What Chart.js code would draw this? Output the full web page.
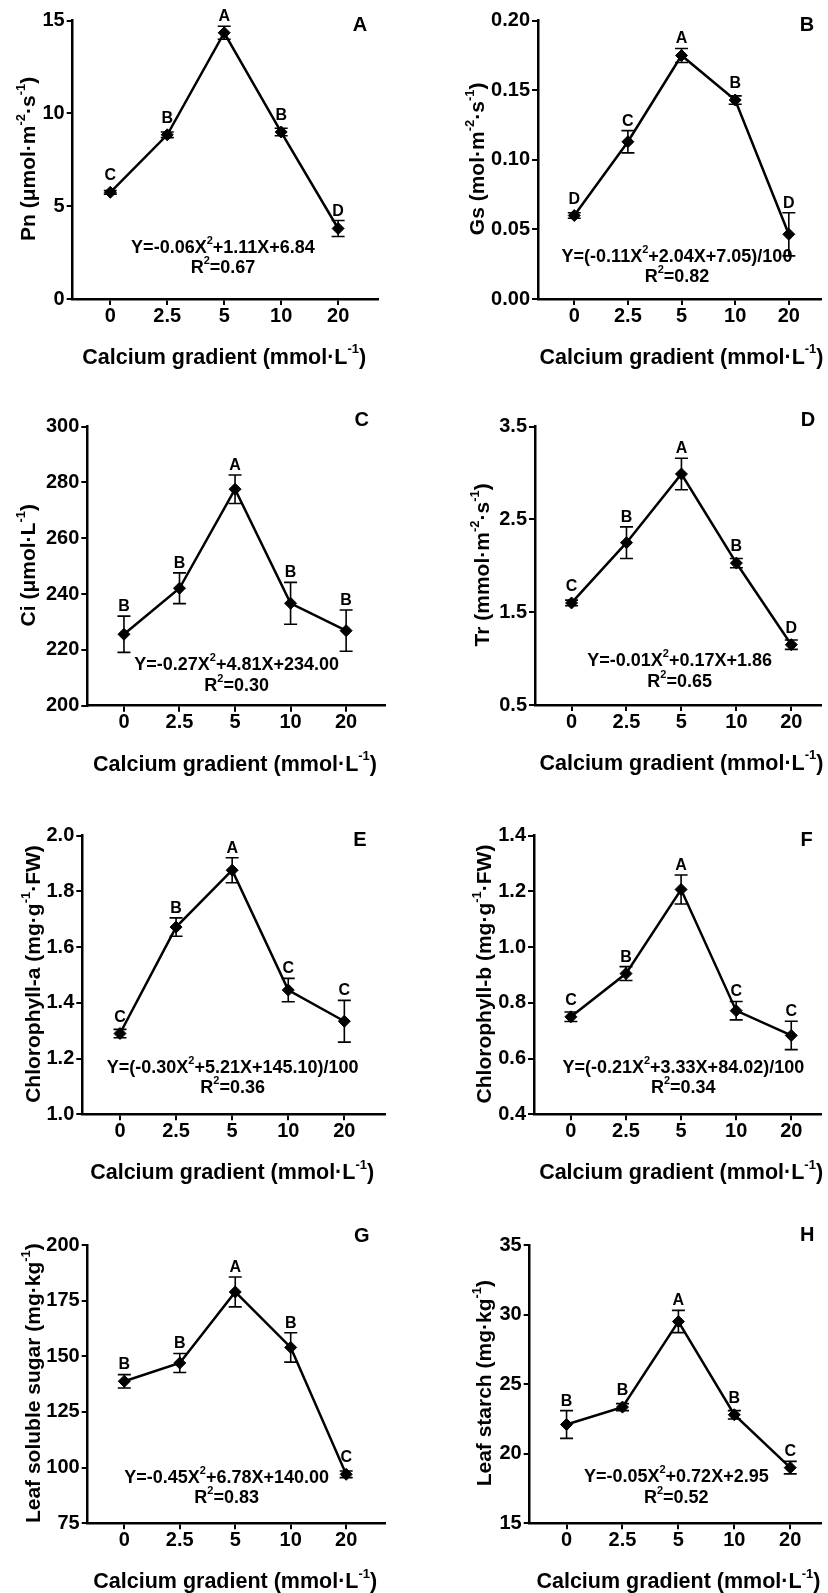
<!DOCTYPE html>
<html>
<head>
<meta charset="utf-8">
<script src="https://cdn.jsdelivr.net/npm/chart.js@4.4.1/dist/chart.umd.min.js"></script>
<style>
  html, body { margin: 0; padding: 0; background: #fff; }
  #page { position: relative; width: 828px; height: 1593px; overflow: hidden; }
  #page canvas { position: absolute; }
</style>
</head>
<body>
<div id="page"></div>
<script>
// calcium treatments (x categories)
const calcium = ['0', '2.5', '5', '10', '20'];

// A - net photosynthetic rate
const pnMean = [5.75, 8.85, 14.35, 9.0, 3.8];
const pnErr = [0.1, 0.15, 0.35, 0.2, 0.43];
const pnLetters = ['C', 'B', 'A', 'B', 'D'];
const pnTicks = ['0', '5', '10', '15'];
const pnFit = ['Y=-0.06X^{2}+1.11X+6.84', 'R^{2}=0.67'];

// B - stomatal conductance
const gsMean = [0.060, 0.113, 0.175, 0.143, 0.0465];
const gsErr = [0.002, 0.008, 0.005, 0.003, 0.0155];
const gsLetters = ['D', 'C', 'A', 'B', 'D'];
const gsTicks = ['0.00', '0.05', '0.10', '0.15', '0.20'];
const gsFit = ['Y=(-0.11X^{2}+2.04X+7.05)/100', 'R^{2}=0.82'];

// C - intercellular CO2
const ciMean = [225.6, 242.1, 277.6, 236.7, 226.9];
const ciErr = [6.5, 5.5, 5.1, 7.5, 7.4];
const ciLetters = ['B', 'B', 'A', 'B', 'B'];
const ciTicks = ['200', '220', '240', '260', '280', '300'];
const ciFit = ['Y=-0.27X^{2}+4.81X+234.00', 'R^{2}=0.30'];

// D - transpiration rate
const trMean = [1.60, 2.25, 2.99, 2.03, 1.15];
const trErr = [0.03, 0.17, 0.17, 0.05, 0.05];
const trLetters = ['C', 'B', 'A', 'B', 'D'];
const trTicks = ['0.5', '1.5', '2.5', '3.5'];
const trFit = ['Y=-0.01X^{2}+0.17X+1.86', 'R^{2}=0.65'];

// E - chlorophyll a
const chlaMean = [1.29, 1.672, 1.876, 1.446, 1.334];
const chlaErr = [0.015, 0.033, 0.045, 0.042, 0.075];
const chlaLetters = ['C', 'B', 'A', 'C', 'C'];
const chlaTicks = ['1.0', '1.2', '1.4', '1.6', '1.8', '2.0'];
const chlaFit = ['Y=(-0.30X^{2}+5.21X+145.10)/100', 'R^{2}=0.36'];

// F - chlorophyll b
const chlbMean = [0.750, 0.905, 1.207, 0.772, 0.683];
const chlbErr = [0.017, 0.025, 0.052, 0.033, 0.051];
const chlbLetters = ['C', 'B', 'A', 'C', 'C'];
const chlbTicks = ['0.4', '0.6', '0.8', '1.0', '1.2', '1.4'];
const chlbFit = ['Y=(-0.21X^{2}+3.33X+84.02)/100', 'R^{2}=0.34'];

// G - leaf soluble sugar
const sugarMean = [138.8, 147.0, 178.9, 154.0, 97.0];
const sugarErr = [3.0, 4.3, 6.7, 6.6, 1.5];
const sugarLetters = ['B', 'B', 'A', 'B', 'C'];
const sugarTicks = ['75', '100', '125', '150', '175', '200'];
const sugarFit = ['Y=-0.45X^{2}+6.78X+140.00', 'R^{2}=0.83'];

// H - leaf starch
const starchMean = [22.1, 23.35, 29.5, 22.8, 19.0];
const starchErr = [1.0, 0.25, 0.8, 0.3, 0.45];
const starchLetters = ['B', 'B', 'A', 'B', 'C'];
const starchTicks = ['15', '20', '25', '30', '35'];
const starchFit = ['Y=-0.05X^{2}+0.72X+2.95', 'R^{2}=0.52'];

const xTitle = 'Calcium gradient (mmol·L^{-1})';

const FONT = '"Liberation Sans", Arial, sans-serif';

// panel layout, page pixel coordinates
const panels = [
  { tag: 'A', mean: pnMean, err: pnErr, letters: pnLetters, ticks: pnTicks, fit: pnFit,
    yTitle: 'Pn (μmol·m^{-2}·s^{-1})', x0: 0, y0: 0, h: 400,
    left: 72.7, top: 20.7, right: 378, bottom: 299, xmin: -0.66, xmax: 4.7,
    yTitleX: 28, tagPos: [360, 24], eq: [223, 247, 267] },
  { tag: 'B', mean: gsMean, err: gsErr, letters: gsLetters, ticks: gsTicks, fit: gsFit,
    yTitle: 'Gs (mol·m^{-2}·s^{-1})', x0: 414, y0: 0, h: 400,
    left: 538, top: 20.7, right: 828, bottom: 299, xmin: -0.676, xmax: 4.6,
    yTitleX: 477.3, tagPos: [807, 24], eq: [677, 255.7, 276] },
  { tag: 'C', mean: ciMean, err: ciErr, letters: ciLetters, ticks: ciTicks, fit: ciFit,
    yTitle: 'Ci (μmol·L^{-1})', x0: 0, y0: 400, h: 400,
    left: 87.3, top: 426.7, right: 385, bottom: 705.7, xmin: -0.66, xmax: 4.7,
    yTitleX: 28.3, tagPos: [361.7, 419], eq: [236.7, 664, 685] },
  { tag: 'D', mean: trMean, err: trErr, letters: trLetters, ticks: trTicks, fit: trFit,
    yTitle: 'Tr (mmol·m^{-2}·s^{-1})', x0: 414, y0: 400, h: 400,
    left: 535, top: 426.7, right: 828, bottom: 705, xmin: -0.665, xmax: 4.54,
    yTitleX: 482.3, tagPos: [808, 419], eq: [679.7, 660, 681] },
  { tag: 'E', mean: chlaMean, err: chlaErr, letters: chlaLetters, ticks: chlaTicks, fit: chlaFit,
    yTitle: 'Chlorophyll-a (mg·g^{-1}·FW)', x0: 0, y0: 800, h: 400,
    left: 82.3, top: 835.7, right: 385, bottom: 1114.3, xmin: -0.672, xmax: 4.725,
    yTitleX: 33.3, tagPos: [360, 839], eq: [232.7, 1066.7, 1087.3] },
  { tag: 'F', mean: chlbMean, err: chlbErr, letters: chlbLetters, ticks: chlbTicks, fit: chlbFit,
    yTitle: 'Chlorophyll-b (mg·g^{-1}·FW)', x0: 414, y0: 800, h: 400,
    left: 534, top: 835.7, right: 828, bottom: 1114.3, xmin: -0.67, xmax: 4.54,
    yTitleX: 484, tagPos: [806.7, 839], eq: [683.3, 1066.7, 1087] },
  { tag: 'G', mean: sugarMean, err: sugarErr, letters: sugarLetters, ticks: sugarTicks, fit: sugarFit,
    yTitle: 'Leaf soluble sugar (mg·kg^{-1})', x0: 0, y0: 1200, h: 393,
    left: 87.7, top: 1245, right: 385, bottom: 1523.3, xmin: -0.66, xmax: 4.7,
    yTitleX: 33.3, tagPos: [361.7, 1235], eq: [226.7, 1476.7, 1496.7] },
  { tag: 'H', mean: starchMean, err: starchErr, letters: starchLetters, ticks: starchTicks, fit: starchFit,
    yTitle: 'Leaf starch (mg·kg^{-1})', x0: 414, y0: 1200, h: 393,
    left: 529.7, top: 1245, right: 828, bottom: 1523.3, xmin: -0.659, xmax: 4.55,
    yTitleX: 484, tagPos: [807.3, 1234], eq: [676.3, 1476, 1496.7] }
];

const Y_W = 60, X_H = 30, PANEL_W = 414;

// text with ^{...} superscripts
function parseRich(s) {
  const parts = [];
  const re = /\^\{([^}]*)\}/g;
  let last = 0, m;
  while ((m = re.exec(s))) {
    if (m.index > last) parts.push({ t: s.slice(last, m.index), sup: false });
    parts.push({ t: m[1], sup: true });
    last = re.lastIndex;
  }
  if (last < s.length) parts.push({ t: s.slice(last), sup: false });
  return parts;
}

function drawRich(ctx, s, cx, cy, size) {
  const parts = parseRich(s);
  const base = 'bold ' + size + 'px ' + FONT;
  const small = 'bold ' + Math.round(size * 0.62) + 'px ' + FONT;
  let w = 0;
  parts.forEach(p => { ctx.font = p.sup ? small : base; p.w = ctx.measureText(p.t).width; w += p.w; });
  let x = cx - w / 2;
  ctx.textAlign = 'left';
  ctx.textBaseline = 'middle';
  parts.forEach(p => {
    ctx.font = p.sup ? small : base;
    ctx.fillText(p.t, x, p.sup ? cy - size * 0.38 : cy);
    x += p.w;
  });
}

function makePlugin(p) {
  return {
    id: 'panelMarks' + p.tag,
    afterDatasetsDraw(chart) {
      const ctx = chart.ctx;
      const xs = chart.scales.x, ys = chart.scales.y;
      ctx.save();
      ctx.strokeStyle = '#000';
      ctx.fillStyle = '#000';
      ctx.lineWidth = 1.6;
      p.mean.forEach((v, i) => {
        const px = xs.getPixelForValue(i);
        const hi = ys.getPixelForValue(v + p.err[i]);
        const lo = ys.getPixelForValue(v - p.err[i]);
        ctx.beginPath();
        ctx.moveTo(px, hi); ctx.lineTo(px, lo);
        ctx.moveTo(px - 6.5, hi); ctx.lineTo(px + 6.5, hi);
        ctx.moveTo(px - 6.5, lo); ctx.lineTo(px + 6.5, lo);
        ctx.stroke();
        const top = Math.min(hi, ys.getPixelForValue(v) - 7);
        ctx.font = 'bold 16px ' + FONT;
        ctx.textAlign = 'center';
        ctx.textBaseline = 'alphabetic';
        ctx.fillText(p.letters[i], px, top - 5);
      });
      ctx.restore();
    },
    afterDraw(chart) {
      const ctx = chart.ctx;
      const area = chart.chartArea;
      const xs = chart.scales.x;
      ctx.save();
      ctx.fillStyle = '#000';
      // x title
      drawRich(ctx, xTitle, xs.getPixelForValue(2), area.bottom + 59, 21.5);
      // y title
      ctx.save();
      ctx.translate(p.yTitleX - p.x0 + 1, (area.top + area.bottom) / 2 - 1);
      ctx.rotate(-Math.PI / 2);
      drawRich(ctx, p.yTitle, 0, 0, 21);
      ctx.restore();
      // panel tag
      drawRich(ctx, p.tag, p.tagPos[0] - p.x0, p.tagPos[1] - p.y0 + 1, 20);
      // fitted equation
      drawRich(ctx, p.fit[0], p.eq[0] - p.x0, p.eq[1] - p.y0 + 1, 18);
      drawRich(ctx, p.fit[1], p.eq[0] - p.x0, p.eq[2] - p.y0 + 1, 18);
      ctx.restore();
    }
  };
}

const page = document.getElementById('page');

panels.forEach(p => {
  const canvas = document.createElement('canvas');
  canvas.width = PANEL_W;
  canvas.height = p.h;
  canvas.style.left = p.x0 + 'px';
  canvas.style.top = p.y0 + 'px';
  canvas.style.width = PANEL_W + 'px';
  canvas.style.height = p.h + 'px';
  page.appendChild(canvas);

  const tickFont = { family: FONT, size: 20, weight: 'bold' };

  new Chart(canvas, {
    type: 'scatter',
    data: {
      datasets: [{
        data: p.mean.map((v, i) => ({ x: i, y: v })),
        showLine: true,
        borderColor: '#000',
        borderWidth: 2.5,
        pointStyle: 'rectRot',
        pointRadius: 6,
        pointBorderWidth: 1,
        pointBackgroundColor: '#000',
        pointBorderColor: '#000'
      }]
    },
    options: {
      responsive: false,
      animation: false,
      devicePixelRatio: 1,
      layout: {
        padding: {
          left: p.left - p.x0 - Y_W,
          right: p.x0 + PANEL_W - p.right,
          top: p.top - p.y0,
          bottom: p.h - (p.bottom - p.y0) - X_H
        }
      },
      plugins: { legend: { display: false }, tooltip: { enabled: false } },
      scales: {
        x: {
          type: 'linear',
          min: p.xmin,
          max: p.xmax,
          afterBuildTicks: s => { s.ticks = calcium.map((c, i) => ({ value: i })); },
          afterFit: s => { s.height = X_H; },
          ticks: {
            callback: v => calcium[v],
            color: '#000',
            font: tickFont,
            padding: -1,
            maxRotation: 0,
            autoSkip: false
          },
          grid: { drawOnChartArea: false, drawTicks: true, tickLength: 6, color: '#000', lineWidth: 2 },
          border: { color: '#000', width: 2.5 }
        },
        y: {
          type: 'linear',
          min: +p.ticks[0],
          max: +p.ticks[p.ticks.length - 1],
          afterBuildTicks: s => { s.ticks = p.ticks.map(t => ({ value: +t })); },
          afterFit: s => { s.width = Y_W; },
          ticks: {
            callback: (v, i) => p.ticks[i],
            color: '#000',
            font: tickFont,
            padding: 2,
            autoSkip: false
          },
          grid: { drawOnChartArea: false, drawTicks: true, tickLength: 6, color: '#000', lineWidth: 2 },
          border: { color: '#000', width: 2.5 }
        }
      }
    },
    plugins: [makePlugin(p)]
  });
});
</script>
</body>
</html>
